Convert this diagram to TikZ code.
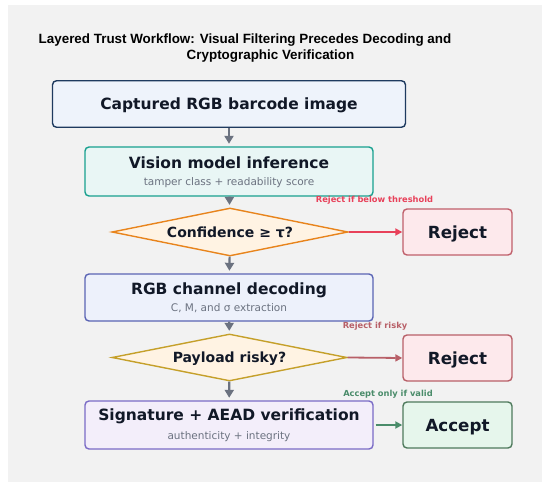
\documentclass[tikz,border=0pt]{standalone}
\usepackage{fontspec}
\setmainfont{DejaVu Sans}
\newfontfamily\headfont{Liberation Sans}
\usetikzlibrary{shapes.geometric,arrows.meta}

\definecolor{panel}{HTML}{F2F2F2}
\definecolor{ink}{HTML}{111827}
\definecolor{subgray}{HTML}{6B7280}
\definecolor{flowgray}{HTML}{6B7280}
\definecolor{capfill}{HTML}{EEF3FB}
\definecolor{capline}{HTML}{1E3A5F}
\definecolor{visfill}{HTML}{E9F6F5}
\definecolor{visline}{HTML}{18A08F}
\definecolor{decfill}{HTML}{FFF3E3}
\definecolor{confline}{HTML}{E8841C}
\definecolor{riskline}{HTML}{C5A02A}
\definecolor{rgbfill}{HTML}{EDF1FB}
\definecolor{rgbline}{HTML}{5A64B4}
\definecolor{verfill}{HTML}{F3EEFA}
\definecolor{verline}{HTML}{7A6BC6}
\definecolor{rejfill}{HTML}{FDE9EC}
\definecolor{rejline}{HTML}{C0606B}
\definecolor{rejarrow}{HTML}{E8415A}
\definecolor{riskarrow}{HTML}{B86068}
\definecolor{accfill}{HTML}{E6F6EC}
\definecolor{accline}{HTML}{4E7A5C}
\definecolor{accarrow}{HTML}{4A8C6A}

\tikzset{
  stagebox/.style={draw, rounded corners=4pt, line width=1.4pt, minimum width=288pt,
    minimum height=48pt, inner sep=0pt, align=center, text=ink,
    font=\fontsize{10.5}{17}\selectfont},
  decision/.style={diamond, draw, line width=1.4pt, aspect=4.9, minimum width=236pt,
    minimum height=48pt, inner sep=0pt, fill=decfill, text=ink, text depth=0pt,
    font=\bfseries\fontsize{14}{16}\selectfont},
  outcome/.style={draw, rounded corners=4pt, line width=1.4pt, minimum width=109pt,
    minimum height=46pt, inner sep=0pt, text=ink, text depth=0pt,
    font=\bfseries\fontsize{16.7}{20}\selectfont},
  flow/.style={-{Triangle[length=8pt,width=9pt]}, draw=flowgray, line width=2.2pt,
    shorten >=2.5pt},
  branch/.style={-{Triangle[length=7pt,width=7pt]}, line width=1.8pt},
  tag/.style={font=\bfseries\fontsize{8.3}{10}\selectfont, inner sep=0pt}
}

\newcommand{\boxhead}[1]{{\bfseries\fontsize{15.5}{18}\selectfont #1}}
\newcommand{\subline}[1]{{\color{subgray}#1}}

\begin{document}
\begin{tikzpicture}[x=1pt, y=-1pt]

    % fond
    \useasboundingbox (0,0) rectangle (550,487);
    \fill[panel] (8,5) rectangle (542,482);

    % titre
    \node[font=\headfont\bfseries\fontsize{13.4}{16}\selectfont, text=black] (title1) at (245,40.5)
        {Layered Trust Workflow: Visual Filtering Precedes Decoding and};
    \node[font=\headfont\bfseries\fontsize{13.4}{16}\selectfont, text=black] (title2) at (270.5,56)
        {Cryptographic Verification};

    % ----------------------------------------------------
    % colonne principale
    % ----------------------------------------------------
    \node[stagebox, fill=capfill, draw=capline, minimum width=353pt, minimum height=46.5pt,
        text depth=0pt] (capture) at (229,104) {\boxhead{Captured RGB barcode image}};

    \node[stagebox, fill=visfill, draw=visline, minimum height=49pt, text depth=0pt] (vision)
        at (229,171.5)
        {\boxhead{Vision model inference}\\
         \subline{tamper class + readability score}};

    \node[decision, draw=confline] (conf) at (230,232) {Confidence ≥ τ?};

    \node[stagebox, fill=rgbfill, draw=rgbline, minimum height=47pt] (decode) at (229,297.5)
        {\boxhead{RGB channel decoding}\\
         \subline{C, M, and σ extraction}};

    \node[decision, draw=riskline, minimum width=235pt, minimum height=47pt] (risky) at (229.5,357.5)
        {Payload risky?};

    \node[stagebox, fill=verfill, draw=verline] (verify) at (229,425)
        {\boxhead{Signature + AEAD verification}\\[2pt]
         \subline{authenticity + integrity}};

    % ----------------------------------------------------
    % sorties
    % ----------------------------------------------------
    \node[outcome, fill=rejfill, draw=rejline] (reject1) at (457.5,232) {Reject};
    \node[outcome, fill=rejfill, draw=riskarrow] (reject2) at (457.5,358) {Reject};
    \node[outcome, fill=accfill, draw=accline] (accept) at (457.5,425) {Accept};

    \node[tag, text=rejarrow] (lab1) at (374.5,200) {Reject if below threshold};
    \node[tag, text=riskarrow] (lab2) at (375,326) {Reject if risky};
    \node[tag, text=accarrow] (lab3) at (388,394) {Accept only if valid};

    % fleches
    \draw[flow] (capture) -- (vision);
    \draw[flow] (vision) -- (conf);
    \draw[flow] (conf) -- (decode);
    \draw[flow] (decode) -- (risky);
    \draw[flow] (risky) -- (verify);

    \draw[branch, rejarrow] (conf.east) -- (reject1.west);
    \draw[branch, riskarrow] (risky.east) -- (reject2.west);
    \draw[branch, accarrow, shorten <=2pt] (verify.east) -- (accept.west);

\end{tikzpicture}
\end{document}
